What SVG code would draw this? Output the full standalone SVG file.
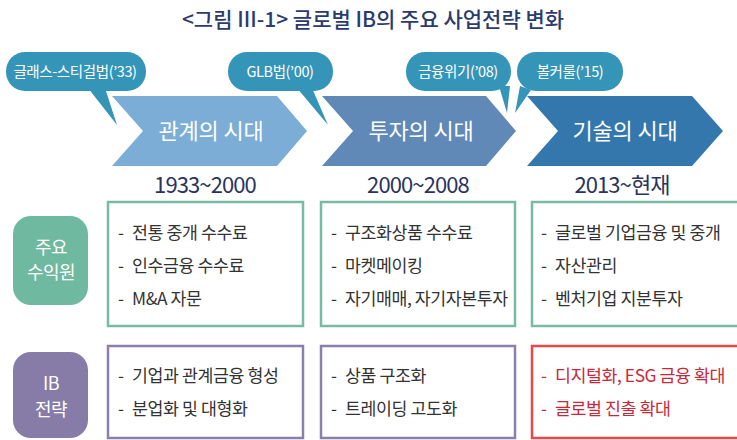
<svg xmlns="http://www.w3.org/2000/svg" width="737" height="440" viewBox="0 0 737 440">
<style>
text{font-family:"Noto Sans CJK KR","Noto Sans",sans-serif;}
.title{font-size:21px;fill:#2b3b6e;font-weight:500;letter-spacing:0px;}
.bub{fill:#3595b8;}
.bt{font-size:14.5px;fill:#fff;letter-spacing:-0.4px;}
.ct{font-size:22px;fill:#fff;letter-spacing:-0.2px;}
.yr{font-size:22px;fill:#28345e;letter-spacing:-0.9px;}
.lt{font-size:18px;fill:#fff;letter-spacing:-0.6px;}
.bx{fill:#fff;stroke-width:2.5;}
.g{stroke:#77bba4;}
.p{stroke:#8a80ab;}
.r{stroke:#e84848;}
.it{font-size:17.3px;fill:#333;letter-spacing:-0.4px;}
.rt{fill:#c8283a;}
</style>
<text class="title" x="373" y="27" text-anchor="middle">&lt;그림 III-1&gt; 글로벌 IB의 주요 사업전략 변화</text>

<g id="chev1"><polygon points="112,96 277,96 307,131 277,166 112,166 143,131" fill="#7badd6"/><text class="ct" x="211" y="139" text-anchor="middle">관계의 시대</text></g>
<g id="chev2"><polygon points="322,96 486,96 516,131 486,166 322,166 353,131" fill="#6189b8"/><text class="ct" x="421" y="139" text-anchor="middle">투자의 시대</text></g>
<g id="chev3"><polygon points="527,96 692,96 723,131 692,166 527,166 558,131" fill="#3477ad"/><text class="ct" x="625" y="139" text-anchor="middle">기술의 시대</text></g>

<g id="bubble1"><rect class="bub" x="6" y="52" width="140" height="39" rx="19"/><polygon class="bub" points="88,88 105,88 117,125"/><text class="bt" x="75" y="77" text-anchor="middle">글래스-스티걸법(’33)</text></g>
<g id="bubble2"><rect class="bub" x="228" y="52" width="105" height="39" rx="19"/><polygon class="bub" points="297,88 312,88 328,125"/><text class="bt" x="280" y="77" text-anchor="middle">GLB법(’00)</text></g>
<g id="bubble3"><rect class="bub" x="406" y="52" width="105" height="39" rx="19"/><polygon class="bub" points="499,86 510,86 507,113"/><text class="bt" x="458" y="77" text-anchor="middle">금융위기(’08)</text></g>
<g id="bubble4"><rect class="bub" x="517" y="52" width="106" height="39" rx="19"/><polygon class="bub" points="520,86 531,90 515,113"/><text class="bt" x="570" y="77" text-anchor="middle">볼커룰(’15)</text></g>

<g id="years">
<text class="yr" x="205" y="193" text-anchor="middle">1933~2000</text>
<text class="yr" x="418" y="193" text-anchor="middle">2000~2008</text>
<text class="yr" x="622" y="193" text-anchor="middle">2013~현재</text>
</g>

<g id="label1"><rect x="13" y="216" width="75" height="89" rx="18" fill="#6fb9a0"/><text class="lt" x="51" y="254" text-anchor="middle">주요</text><text class="lt" x="51" y="279" text-anchor="middle">수익원</text></g>
<g id="label2"><rect x="13" y="352" width="75" height="86" rx="18" fill="#877ca8"/><text class="lt" x="51" y="390" text-anchor="middle">IB</text><text class="lt" x="51" y="416" text-anchor="middle">전략</text></g>

<g id="box1"><rect class="bx g" x="108" y="202" width="195" height="124"/>
<text class="it" x="118" y="239">-</text><text class="it" x="132" y="239">전통 중개 수수료</text>
<text class="it" x="118" y="272">-</text><text class="it" x="132" y="272">인수금융 수수료</text>
<text class="it" x="118" y="305">-</text><text class="it" x="132" y="305">M&amp;A 자문</text></g>
<g id="box2"><rect class="bx g" x="321" y="202" width="194" height="124"/>
<text class="it" x="331" y="239">-</text><text class="it" x="345" y="239">구조화상품 수수료</text>
<text class="it" x="331" y="272">-</text><text class="it" x="345" y="272">마켓메이킹</text>
<text class="it" x="331" y="305">-</text><text class="it" x="345" y="305">자기매매, 자기자본투자</text></g>
<g id="box3"><rect class="bx g" x="532" y="202" width="220" height="124"/>
<text class="it" x="541" y="239">-</text><text class="it" x="555" y="239">글로벌 기업금융 및 중개</text>
<text class="it" x="541" y="272">-</text><text class="it" x="555" y="272">자산관리</text>
<text class="it" x="541" y="305">-</text><text class="it" x="555" y="305">벤처기업 지분투자</text></g>

<g id="box4"><rect class="bx p" x="108" y="346" width="195" height="92"/>
<text class="it" x="118" y="382">-</text><text class="it" x="132" y="382">기업과 관계금융 형성</text>
<text class="it" x="118" y="415">-</text><text class="it" x="132" y="415">분업화 및 대형화</text></g>
<g id="box5"><rect class="bx p" x="321" y="346" width="194" height="92"/>
<text class="it" x="331" y="382">-</text><text class="it" x="345" y="382">상품 구조화</text>
<text class="it" x="331" y="415">-</text><text class="it" x="345" y="415">트레이딩 고도화</text></g>
<g id="box6"><rect class="bx r" x="532" y="346" width="220" height="92"/>
<text class="it rt" x="541" y="382">-</text><text class="it rt" x="555" y="382">디지털화, ESG 금융 확대</text>
<text class="it rt" x="541" y="415">-</text><text class="it rt" x="555" y="415">글로벌 진출 확대</text></g>
</svg>
